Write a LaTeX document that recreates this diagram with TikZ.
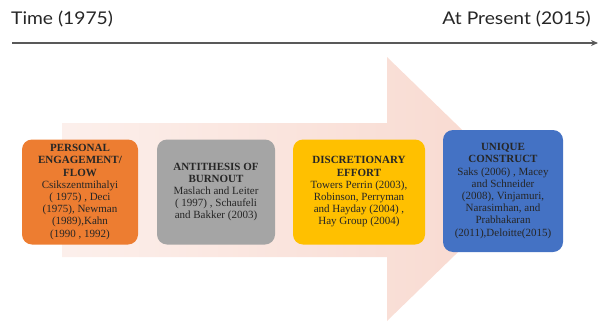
\documentclass[tikz,border=0pt]{standalone}
\usepackage{fontspec}
\usepackage{tikz}
\usetikzlibrary{arrows.meta}
\setmainfont{Liberation Serif}
\newfontfamily\timefont[FakeStretch=1.1]{Lato}

\definecolor{arrowpink}{RGB}{248,216,206}
\definecolor{engorange}{RGB}{237,125,49}
\definecolor{enggray}{RGB}{165,165,165}
\definecolor{engyellow}{RGB}{255,192,0}
\definecolor{engblue}{RGB}{68,114,196}

\tikzset{
    stage/.style={rounded corners=10pt, minimum height=105pt, inner sep=0pt,
        align=center, font=\fontsize{11}{12.2}\selectfont, text=black!85},
    timelabel/.style={font=\timefont\fontsize{17.5}{20}\selectfont, text=black!85, inner sep=0pt}
}

\begin{document}
\begin{tikzpicture}[x=1pt, y=-1pt]
    \useasboundingbox (0,0) rectangle (601,321);
    % The big arrow behind the boxes.
        \shade[left color=arrowpink!40, right color=arrowpink] (62,123) -- (387,123) -- (387,57)
            -- (523,189) -- (387,321) -- (387,257) -- (62,257) -- cycle;
    % Time line and its labels.
        \coordinate (tstart) at (12,43);
        \coordinate (tend) at (598,43);
        \draw[black!65, line width=1.6pt, -{Stealth[length=7pt, width=6pt]}] (tstart) -- (tend);
        \node[timelabel, anchor=base west] (tpast) at (11,25) {Time (1975)};
        \node[timelabel, anchor=base east] (tnow) at (591,25) {At Present (2015)};
    % The four stages.
        \node[stage, fill=engorange, minimum width=116pt] (personal) at (80,192)
            {\textbf{PERSONAL}\\ \textbf{ENGAGEMENT/}\\ \textbf{FLOW}\\ Csikszentmihalyi\\ ( 1975) , Deci\\ (1975), Newman\\ (1989),Kahn\\ (1990 , 1992)};
        \node[stage, fill=enggray, minimum width=118pt] (antithesis) at (216,192)
            {\textbf{ANTITHESIS OF}\\ \textbf{BURNOUT}\\ Maslach and Leiter\\ ( 1997) , Schaufeli\\ and Bakker (2003)};
        \node[stage, fill=engyellow, minimum width=132pt] (effort) at (359,192)
            {\textbf{DISCRETIONARY}\\ \textbf{EFFORT}\\ Towers Perrin (2003),\\ Robinson, Perryman\\ and Hayday (2004) ,\\ Hay Group (2004)};
        \node[stage, fill=engblue, minimum width=120pt, minimum height=122pt] (unique) at (503,191)
            {\textbf{UNIQUE}\\ \textbf{CONSTRUCT}\\ Saks (2006) , Macey\\ and Schneider\\ (2008), Vinjamuri,\\ Narasimhan, and\\ Prabhakaran\\ (2011),Deloitte(2015)};
\end{tikzpicture}
\end{document}
